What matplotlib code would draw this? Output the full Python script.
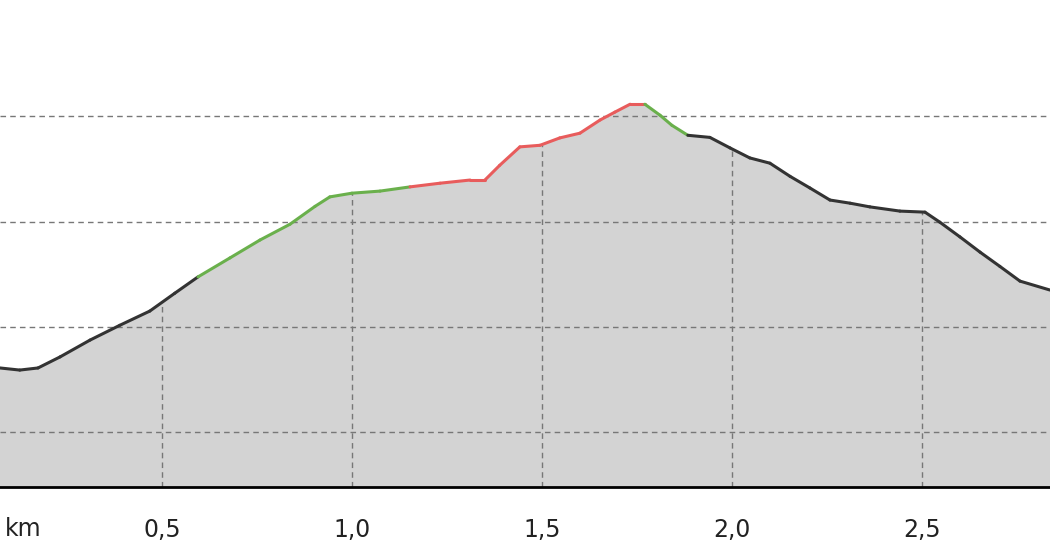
import matplotlib
matplotlib.use("Agg")
import matplotlib.pyplot as plt
import numpy as np

km = [0.074,0.126,0.174,0.232,0.311,0.389,0.468,0.534,0.595,0.679,0.758,0.837,0.903,0.942,1.0,1.074,1.153,1.232,1.311,1.350,1.389,1.442,1.495,1.547,1.6,1.653,1.692,1.732,1.771,1.811,1.842,1.884,1.942,1.995,2.047,2.1,2.153,2.205,2.258,2.311,2.363,2.442,2.508,2.547,2.6,2.653,2.705,2.758,2.837]
elev = [532.2,531.8,532.2,534.3,537.5,540.3,543.0,546.4,549.5,553.1,556.5,559.5,562.9,564.7,565.4,565.8,566.6,567.3,567.9,567.9,570.7,574.2,574.5,575.9,576.8,579.3,580.8,582.3,582.3,580.2,578.3,576.4,576.0,574.0,572.1,571.1,568.6,566.4,564.1,563.5,562.8,562.0,561.8,559.9,557.1,554.2,551.5,548.7,547.0]
color_ranges = [(0.595,1.153,'#6ab04c'),(1.153,1.771,'#e85c5c'),(1.771,1.884,'#6ab04c')]
xticks = [0.5,1.0,1.5,2.0,2.5]
xticklabels = ['0,5','1,0','1,5','2,0','2,5']
ygrid = [520,540,560,580]

fig = plt.figure(figsize=(10.5,5.6), dpi=100)
ax = fig.add_axes([0,0.13,1,0.87])
ymin = 509.55
ax.fill_between(km, elev, ymin, color='#d3d3d3', zorder=1)
for i in range(len(km)-1):
    c = '#333333'
    for a,b,col in color_ranges:
        if km[i] >= a-1e-9 and km[i+1] <= b+1e-9:
            c = col
    ax.plot(km[i:i+2], elev[i:i+2], color=c, lw=2.2, solid_capstyle='round', zorder=3)
ax.set_xlim(0.074, 2.837)
ax.set_ylim(ymin, 602.1)
for y in ygrid:
    ax.axhline(y, color='#777777', ls=(0,(4,3)), lw=1, zorder=2)
for x in xticks:
    top = np.interp(x, km, elev)
    ax.plot([x, x], [ymin, top], color='#777777', ls=(0,(4,3)), lw=1, zorder=2)
ax.set_xticks(xticks)
ax.set_xticklabels(xticklabels, fontsize=17, color='#222222')
ax.tick_params(axis='x', length=0, pad=22)
ax.set_yticks([])
for s in ['top','left','right']:
    ax.spines[s].set_visible(False)
ax.spines['bottom'].set_linewidth(2)
fig.text(0.005, 0.055, 'km', fontsize=17, color='#222222', va='center')
fig.savefig('out.png', dpi=100)
